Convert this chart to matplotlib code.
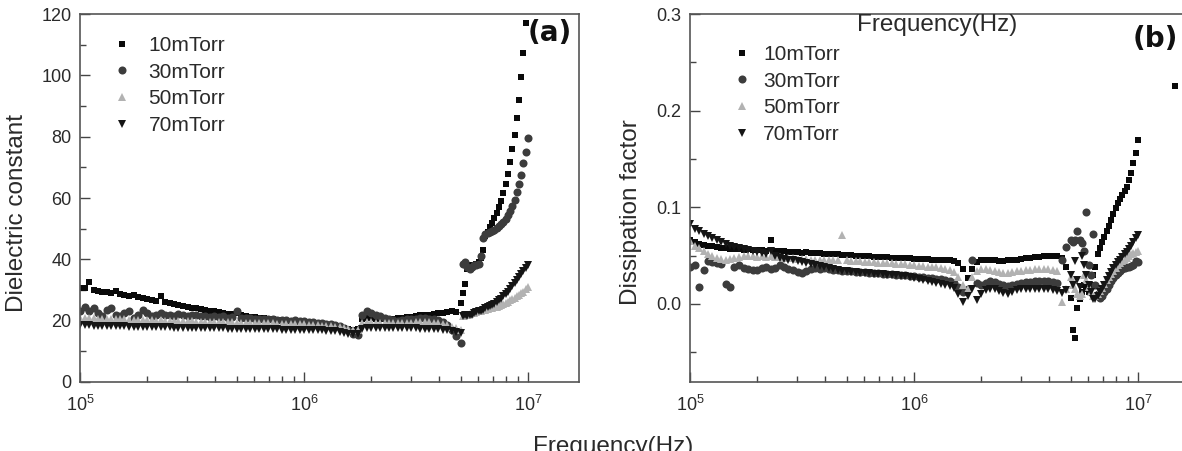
import matplotlib
matplotlib.use("Agg")
import matplotlib.pyplot as plt
from matplotlib.ticker import LogLocator, MultipleLocator, FixedLocator, NullFormatter, LogFormatterMathtext, FormatStrFormatter

plt.rcParams['font.family'] = ['Liberation Sans', 'DejaVu Sans']
plt.rcParams['mathtext.fontset'] = 'custom'
plt.rcParams['mathtext.rm'] = 'Liberation Sans'
plt.rcParams['mathtext.it'] = 'Liberation Sans:italic'
plt.rcParams['mathtext.bf'] = 'Liberation Sans:bold'

# ---------------- data ----------------
freq = [
    1.00e5, 1.05e5, 1.10e5, 1.15e5, 1.20e5, 1.26e5, 1.32e5, 1.38e5, 1.45e5, 1.51e5,
    1.58e5, 1.66e5, 1.74e5, 1.82e5, 1.91e5, 2.00e5, 2.09e5, 2.19e5, 2.29e5, 2.40e5,
    2.51e5, 2.63e5, 2.75e5, 2.88e5, 3.02e5, 3.16e5, 3.31e5, 3.47e5, 3.63e5, 3.80e5,
    3.98e5, 4.17e5, 4.37e5, 4.57e5, 4.79e5, 5.01e5, 5.25e5, 5.50e5, 5.75e5, 6.03e5,
    6.31e5, 6.61e5, 6.92e5, 7.24e5, 7.59e5, 7.94e5, 8.32e5, 8.71e5, 9.12e5, 9.55e5,
    1.00e6, 1.05e6, 1.10e6, 1.15e6, 1.20e6, 1.26e6, 1.32e6, 1.38e6, 1.45e6, 1.51e6,
    1.58e6, 1.66e6, 1.74e6, 1.82e6, 1.91e6, 2.00e6, 2.09e6, 2.19e6, 2.29e6, 2.40e6,
    2.51e6, 2.63e6, 2.75e6, 2.88e6, 3.02e6, 3.16e6, 3.31e6, 3.47e6, 3.63e6, 3.80e6,
    3.98e6, 4.17e6, 4.37e6, 4.57e6, 4.79e6, 5.01e6,
    5.13e6, 5.25e6, 5.37e6, 5.50e6, 5.62e6, 5.75e6, 5.89e6, 6.03e6, 6.17e6, 6.31e6,
    6.46e6, 6.61e6, 6.76e6, 6.92e6, 7.08e6, 7.24e6, 7.41e6, 7.59e6, 7.76e6, 7.94e6,
    8.13e6, 8.32e6, 8.51e6, 8.71e6, 8.91e6, 9.12e6, 9.33e6, 9.55e6, 9.77e6, 1.00e7,
]

labels = ['10mTorr', '30mTorr', '50mTorr', '70mTorr']

# Dielectric constant (panel a)
eps_10 = [
    30.5, 30.8, 32.5, 30.0, 29.7, 29.5, 29.2, 29.0, 29.8, 28.6,
    28.3, 28.0, 28.4, 27.6, 27.3, 27.0, 26.7, 26.5, 28.0, 26.0,
    25.6, 25.3, 25.0, 24.8, 24.5, 24.2, 24.0, 23.7, 23.5, 23.2,
    23.0, 22.8, 22.6, 22.3, 22.1, 22.4, 21.8, 21.5, 21.3, 21.1,
    21.0, 20.8, 20.6, 20.4, 20.3, 20.1, 20.0, 19.8, 19.7, 19.5,
    19.4, 19.2, 19.0, 18.8, 18.6, 18.4, 18.2, 18.0, 17.8, 17.5,
    17.2, 16.8, 17.2, 20.5, 21.0, 20.8, 20.6, 20.5, 20.4, 20.5,
    20.6, 20.8, 21.0, 21.2, 21.3, 21.5, 21.7, 21.9, 22.0, 22.2,
    22.4, 22.6, 22.8, 23.0, 22.7, 25.8,
    29.0, 32.0, 37.0, 38.0, 37.5, 38.0, 38.5, 39.0, 40.5, 43.0,
    47.5, 49.0, 50.5, 52.0, 53.5, 55.0, 57.0, 59.0, 61.6, 64.6,
    67.9, 71.6, 76.0, 80.5, 86.0, 92.0, 99.3, 107.4, 117.0, 128.0,
]
eps_30 = [
    23.0, 24.5, 23.0, 24.0, 22.5, 21.5, 23.5, 24.0, 22.0, 21.5,
    22.5, 23.0, 21.0, 22.0, 23.5, 22.5, 21.5, 22.0, 22.5, 21.8,
    22.0, 21.5, 22.3, 21.8, 21.5, 22.0, 21.7, 21.4, 21.6, 21.3,
    21.5, 21.2, 21.4, 21.0, 21.2, 23.0, 20.9, 20.8, 20.9, 20.6,
    20.7, 20.5, 20.4, 20.5, 20.3, 20.2, 20.3, 20.0, 20.1, 19.9,
    19.8, 19.7, 19.5, 19.4, 19.2, 19.0, 18.8, 18.5, 18.1, 17.6,
    16.8, 15.8, 15.3, 22.0, 23.0, 22.5, 22.0, 21.5, 21.0, 20.6,
    20.3, 20.0, 20.2, 20.4, 20.6, 20.7, 20.8, 20.8, 20.7, 20.5,
    20.2, 19.5, 18.5, 17.0, 15.0, 12.8,
    38.5, 39.0, 37.5, 37.0, 37.5, 38.0, 38.0, 38.5, 41.0, 47.0,
    48.3, 48.6, 49.0, 49.4, 49.7, 50.3, 51.0, 51.5, 52.3, 53.2,
    54.5, 55.7, 57.5, 59.5, 62.0, 64.5, 67.5, 71.3, 75.0, 79.6,
]
eps_50 = [
    21.0, 21.0, 20.8, 20.9, 20.7, 20.6, 20.7, 20.5, 20.5, 20.4,
    20.4, 20.3, 20.3, 20.2, 20.3, 20.1, 20.1, 20.0, 20.2, 20.0,
    19.9, 19.9, 19.9, 19.8, 19.8, 19.8, 19.7, 19.7, 19.7, 19.6,
    19.6, 19.6, 19.5, 19.5, 19.5, 19.4, 19.4, 19.3, 19.3, 19.3,
    19.2, 19.2, 19.1, 19.1, 19.0, 19.0, 19.0, 18.9, 18.9, 18.8,
    18.8, 18.7, 18.6, 18.5, 18.4, 18.3, 18.1, 18.0, 17.8, 17.5,
    17.2, 16.8, 17.0, 19.3, 19.6, 19.5, 19.4, 19.3, 19.3, 19.3,
    19.3, 19.3, 19.4, 19.4, 19.4, 19.5, 19.5, 19.5, 19.5, 19.4,
    19.3, 19.0, 18.6, 18.0, 17.5, 17.0,
    21.5, 21.8, 22.0, 22.2, 22.4, 22.6, 22.8, 23.0, 23.2, 23.4,
    23.6, 23.8, 24.0, 24.2, 24.4, 24.6, 24.9, 25.2, 25.5, 25.8,
    26.2, 26.6, 27.0, 27.4, 27.9, 28.4, 28.9, 29.5, 30.2, 31.0,
]
eps_70 = [
    18.6, 18.5, 18.5, 18.4, 18.4, 18.3, 18.3, 18.2, 18.2, 18.1,
    18.1, 18.0, 18.0, 18.0, 17.9, 17.9, 17.9, 17.8, 17.8, 17.8,
    17.8, 17.7, 17.7, 17.7, 17.7, 17.6, 17.6, 17.6, 17.6, 17.5,
    17.5, 17.5, 17.5, 17.4, 17.4, 17.4, 17.4, 17.3, 17.3, 17.3,
    17.3, 17.2, 17.2, 17.2, 17.2, 17.1, 17.1, 17.1, 17.0, 17.0,
    17.0, 16.9, 16.9, 16.8, 16.8, 16.7, 16.6, 16.5, 16.3, 16.1,
    15.8, 15.5, 15.8, 17.2, 17.5, 17.5, 17.5, 17.5, 17.5, 17.5,
    17.5, 17.5, 17.5, 17.5, 17.5, 17.5, 17.4, 17.4, 17.4, 17.3,
    17.2, 17.0, 16.8, 16.6, 16.3, 16.0,
    21.5, 22.0, 21.5, 22.0, 22.0, 22.5, 22.8, 23.0, 23.3, 23.6,
    24.0, 24.3, 24.7, 25.1, 25.5, 26.0, 26.6, 27.2, 27.9, 28.6,
    29.4, 30.3, 31.2, 32.2, 33.2, 34.2, 35.2, 36.2, 37.2, 38.3,
]

# Dissipation factor (panel b)
df_10 = [
    0.066, 0.064, 0.062, 0.061, 0.060, 0.060, 0.059, 0.058, 0.058, 0.057,
    0.057, 0.057, 0.056, 0.057, 0.056, 0.056, 0.056, 0.055, 0.066, 0.055,
    0.055, 0.055, 0.054, 0.054, 0.054, 0.053, 0.054, 0.053, 0.053, 0.053,
    0.052, 0.052, 0.052, 0.052, 0.051, 0.051, 0.051, 0.050, 0.050, 0.050,
    0.050, 0.049, 0.049, 0.049, 0.049, 0.048, 0.048, 0.048, 0.048, 0.048,
    0.047, 0.047, 0.047, 0.047, 0.046, 0.046, 0.046, 0.045, 0.045, 0.044,
    0.042, 0.036, 0.027, 0.036, 0.043, 0.045, 0.046, 0.046, 0.045, 0.044,
    0.044, 0.045, 0.046, 0.046, 0.047, 0.048, 0.048, 0.049, 0.049, 0.050,
    0.050, 0.050, 0.050, 0.048, 0.038, 0.006,
    -0.027, -0.035, -0.004, 0.005, 0.012, 0.020, 0.015, 0.012, 0.020, 0.030,
    0.038, 0.052, 0.058, 0.064, 0.069, 0.075, 0.081, 0.087, 0.093, 0.099,
    0.104, 0.109, 0.113, 0.117, 0.121, 0.128, 0.136, 0.146, 0.156, 0.170,
]
df_10_extra_freq = [1.47e7]
df_10_extra = [0.225]
df_30 = [
    0.038, 0.040, 0.018, 0.035, 0.044, 0.043, 0.042, 0.041, 0.021, 0.018,
    0.038, 0.040, 0.037, 0.036, 0.035, 0.035, 0.037, 0.038, 0.036, 0.037,
    0.040, 0.038, 0.036, 0.035, 0.033, 0.032, 0.034, 0.036, 0.037, 0.036,
    0.037, 0.036, 0.035, 0.035, 0.034, 0.034, 0.034, 0.033, 0.033, 0.033,
    0.032, 0.032, 0.032, 0.031, 0.031, 0.031, 0.030, 0.030, 0.030, 0.029,
    0.029, 0.028, 0.028, 0.027, 0.027, 0.026, 0.026, 0.025, 0.024, 0.022,
    0.018, 0.012, 0.015, 0.045, 0.022, 0.020, 0.022, 0.024, 0.023, 0.021,
    0.020, 0.019, 0.020, 0.021, 0.022, 0.023, 0.023, 0.024, 0.024, 0.024,
    0.024, 0.023, 0.022, 0.045, 0.059, 0.066,
    0.064, 0.066, 0.075, 0.066, 0.063, 0.055, 0.095, 0.040, 0.030, 0.072,
    0.020, 0.010, 0.006, 0.008, 0.012, 0.016, 0.020, 0.024, 0.027, 0.030,
    0.032, 0.034, 0.036, 0.037, 0.038, 0.038, 0.039, 0.040, 0.044, 0.043,
]
df_50 = [
    0.065, 0.060, 0.058, 0.055, 0.052, 0.050, 0.048, 0.047, 0.046, 0.047,
    0.048, 0.049, 0.050, 0.050, 0.050, 0.049, 0.050, 0.049, 0.050, 0.049,
    0.049, 0.048, 0.048, 0.048, 0.047, 0.047, 0.047, 0.046, 0.046, 0.046,
    0.046, 0.045, 0.045, 0.045, 0.071, 0.045, 0.044, 0.044, 0.044, 0.043,
    0.043, 0.043, 0.042, 0.042, 0.042, 0.042, 0.041, 0.041, 0.041, 0.040,
    0.040, 0.039, 0.039, 0.038, 0.038, 0.038, 0.037, 0.036, 0.035, 0.033,
    0.028, 0.020, 0.015, 0.028, 0.034, 0.036, 0.036, 0.035, 0.034, 0.033,
    0.032, 0.032, 0.033, 0.034, 0.034, 0.035, 0.035, 0.036, 0.036, 0.036,
    0.036, 0.035, 0.034, 0.002, 0.015, 0.028,
    0.020, 0.015, 0.010, 0.008, 0.010, 0.030, 0.025, 0.018, 0.012, 0.008,
    0.008, 0.010, 0.013, 0.017, 0.021, 0.025, 0.028, 0.031, 0.034, 0.037,
    0.040, 0.042, 0.044, 0.046, 0.048, 0.050, 0.052, 0.053, 0.054, 0.055,
]
df_70 = [
    0.083, 0.078, 0.075, 0.072, 0.070, 0.068, 0.066, 0.064, 0.062, 0.060,
    0.059, 0.058, 0.057, 0.056, 0.055, 0.054, 0.053, 0.052, 0.055, 0.050,
    0.048, 0.047, 0.046, 0.045, 0.044, 0.043, 0.042, 0.041, 0.040, 0.039,
    0.038, 0.037, 0.036, 0.035, 0.034, 0.034, 0.033, 0.033, 0.032, 0.032,
    0.032, 0.031, 0.031, 0.031, 0.030, 0.030, 0.030, 0.029, 0.029, 0.028,
    0.027, 0.026, 0.025, 0.024, 0.023, 0.022, 0.021, 0.020, 0.019, 0.017,
    0.010, 0.002, 0.008, 0.015, 0.004, 0.010, 0.014, 0.016, 0.015, 0.013,
    0.011, 0.010, 0.012, 0.014, 0.015, 0.016, 0.016, 0.016, 0.015, 0.015,
    0.015, 0.014, 0.013, 0.011, 0.014, 0.030,
    0.020, 0.044, 0.025, 0.018, 0.050, 0.040, 0.030, 0.020, 0.012, 0.005,
    0.005, 0.008, 0.012, 0.016, 0.020, 0.025, 0.029, 0.033, 0.037, 0.040,
    0.043, 0.046, 0.049, 0.052, 0.054, 0.057, 0.060, 0.064, 0.068, 0.071,
]

eps_ticks = [0, 20, 40, 60, 80, 100, 120]
df_ticks = [0.0, 0.1, 0.2, 0.3]

# ---------------- style ----------------
styles = [
    dict(marker='s', color='#0a0a0a', ms=4.8),
    dict(marker='o', color='#3c3c3c', ms=5.8),
    dict(marker='^', color='#b2b2b2', ms=6.2),
    dict(marker='v', color='#151515', ms=6.2),
]

W, H = 1182, 451
fig = plt.figure(figsize=(W / 100, H / 100), dpi=100)


def px_axes(x0, x1, ytop, ybot):
    return [x0 / W, 1 - ybot / H, (x1 - x0) / W, (ybot - ytop) / H]


axL = fig.add_axes(px_axes(80, 579, 14, 382))
axR = fig.add_axes(px_axes(690, 1189, 14, 382))

spine_col = '#555555'
txt_col = '#2a2a2a'

for ax in (axL, axR):
    ax.set_xscale('log')
    ax.set_xlim(1e5, 1.69e7)
    for s in ax.spines.values():
        s.set_color(spine_col)
        s.set_linewidth(1.2)
    ax.xaxis.set_major_locator(LogLocator(base=10, numticks=10))
    ax.xaxis.set_minor_locator(LogLocator(base=10, subs=[2, 3, 4, 5, 6, 7, 8, 9], numticks=20))
    ax.xaxis.set_major_formatter(LogFormatterMathtext())
    ax.xaxis.set_minor_formatter(NullFormatter())
    ax.tick_params(which='both', direction='in', color='#444444', width=1.0,
                   top=False, right=False, labelsize=13, labelcolor=txt_col)
    ax.tick_params(which='major', length=7)
    ax.tick_params(which='minor', length=4)
    ax.tick_params(axis='x', which='major', pad=9)
    ax.tick_params(axis='y', which='major', pad=6)

series_L = [eps_10, eps_30, eps_50, eps_70]
series_R = [df_10, df_30, df_50, df_70]

for lab, st, y in zip(labels, styles, series_L):
    axL.plot(freq, y, linestyle='none', marker=st['marker'], color=st['color'],
             ms=st['ms'], mew=0, label=lab)
for lab, st, y in zip(labels, styles, series_R):
    axR.plot(freq, y, linestyle='none', marker=st['marker'], color=st['color'],
             ms=st['ms'], mew=0, label=lab)
axR.plot(df_10_extra_freq, df_10_extra, linestyle='none', marker=styles[0]['marker'],
         color=styles[0]['color'], ms=styles[0]['ms'], mew=0)

axL.set_ylim(0, 120)
axL.yaxis.set_major_locator(FixedLocator(eps_ticks))
axL.yaxis.set_minor_locator(MultipleLocator(10))

axR.set_ylim(-0.0807, 0.3)
axR.yaxis.set_major_locator(FixedLocator(df_ticks))
axR.yaxis.set_minor_locator(MultipleLocator(0.05))
axR.yaxis.set_major_formatter(FormatStrFormatter('%.1f'))

leg_kw = dict(frameon=False, fontsize=15, numpoints=1, handlelength=1.0,
              borderpad=0, borderaxespad=0, labelspacing=0.37,
              loc='upper left', bbox_transform=fig.transFigure, labelcolor=txt_col)
axL.legend(bbox_to_anchor=(112 / W, 1 - 36 / H), handletextpad=0.75, **leg_kw)
axR.legend(bbox_to_anchor=(732 / W, 1 - 45 / H), handletextpad=0.5, **leg_kw)

fig.text(17 / W, 1 - 213 / H, 'Dielectric constant', rotation=90, ha='center', va='center',
         fontsize=17.5, color=txt_col)
fig.text(631 / W, 1 - 212 / H, 'Dissipation factor', rotation=90, ha='center', va='center',
         fontsize=17.5, color=txt_col)
fig.text(937 / W, 1 - 25 / H, 'Frequency(Hz)', ha='center', va='center',
         fontsize=17.5, color=txt_col)
fig.text(613 / W, 1 - 436 / H, 'Frequency(Hz)', ha='center', va='top',
         fontsize=17.5, color=txt_col)
fig.text(528 / W, 1 - 33 / H, '(a)', ha='left', va='center', fontsize=20,
         fontweight='bold', family='DejaVu Sans', color='#111111')
fig.text(1133 / W, 1 - 39 / H, '(b)', ha='left', va='center', fontsize=20,
         fontweight='bold', family='DejaVu Sans', color='#111111')

fig.savefig('out.png', dpi=100)
